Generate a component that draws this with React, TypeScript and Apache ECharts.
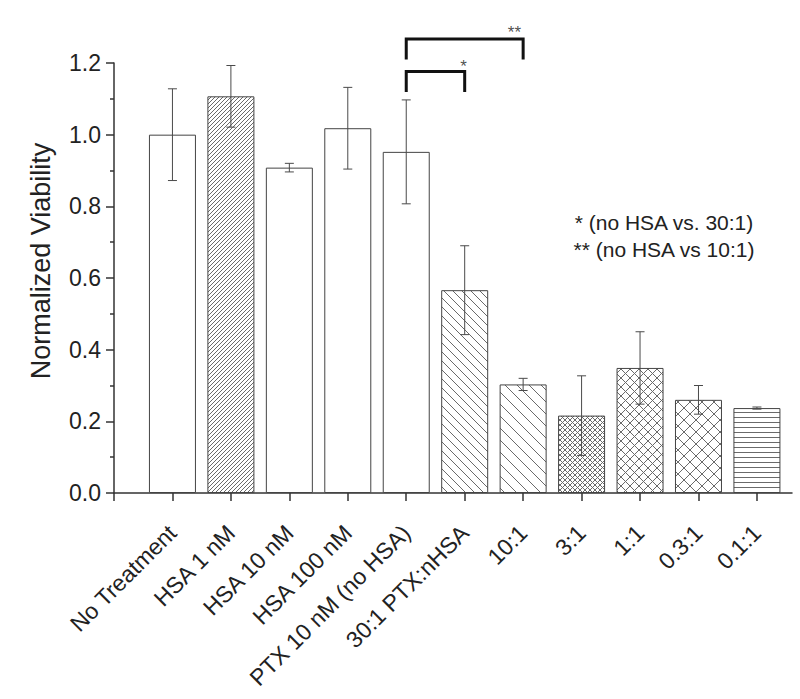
import React, { useEffect, useRef } from 'react';
import * as echarts from 'echarts';

// ---- data ----
const categories = [
  'No Treatment',
  'HSA 1 nM',
  'HSA 10 nM',
  'HSA 100 nM',
  'PTX 10 nM (no HSA)',
  '30:1 PTX:nHSA',
  '10:1',
  '3:1',
  '1:1',
  '0.3:1',
  '0.1:1',
];
const viability = [1.0, 1.107, 0.908, 1.018, 0.952, 0.566, 0.303, 0.216, 0.349, 0.26, 0.237];
const errors = [0.128, 0.086, 0.012, 0.114, 0.145, 0.124, 0.017, 0.111, 0.101, 0.04, 0.003];
const hatchKinds = ['none', 'fwd', 'none', 'none', 'none', 'back', 'back', 'cross', 'cross', 'cross', 'horiz'];
const hatchSizes = [0, 4, 0, 0, 0, 9, 12, 5, 9, 12, 5];
const yTickValues = [0, 0.2, 0.4, 0.6, 0.8, 1.0, 1.2];
// significance brackets: [x, y] in data space
const bracketOuter = [[5, 1.214], [5, 1.267], [7, 1.267], [7, 1.214]];
const bracketInner = [[5, 1.123], [5, 1.176], [6, 1.176], [6, 1.123]];
const starPositions = [[5.98, 1.19], [6.85, 1.285]];
const starTexts = ['*', '**'];
const noteLines = ['* (no HSA vs. 30:1)', '** (no HSA vs 10:1)'];

const FONT = '"Liberation Sans", Arial, Helvetica, sans-serif';

function hatchFill(kind: string, s: number, color: string): any {
  if (kind === 'none') return '#ffffff';
  const fwd = `M0 ${s} L${s} 0 M-1 1 L1 -1 M${s - 1} ${s + 1} L${s + 1} ${s - 1}`;
  const back = `M0 0 L${s} ${s} M-1 ${s - 1} L1 ${s + 1} M${s - 1} -1 L${s + 1} 1`;
  const horiz = `M0 ${s / 2} L${s} ${s / 2}`;
  let d = '';
  if (kind === 'fwd') d = fwd;
  else if (kind === 'back') d = back;
  else if (kind === 'cross') d = fwd + ' ' + back;
  else if (kind === 'horiz') d = horiz;
  const svg = `<svg xmlns="http://www.w3.org/2000/svg" width="${s}" height="${s}"><rect width="${s}" height="${s}" fill="#ffffff"/><path d="${d}" stroke="${color}" stroke-width="1" fill="none"/></svg>`;
  return {
    image: 'data:image/svg+xml;charset=utf-8,' + encodeURIComponent(svg),
    repeat: 'repeat',
    imageWidth: s,
    imageHeight: s,
  };
}

export default function App() {
  const ref = useRef<HTMLDivElement>(null);
  useEffect(() => {
    document.body.style.margin = '0';
    if (!ref.current) return;
    const chart = echarts.init(ref.current, null, { renderer: 'svg' });
    const xTicks = categories.map((_, i) => i).concat([categories.length]);
    const option: any = {
      animation: false,
      backgroundColor: '#ffffff',
      grid: { left: 114, right: 8, top: 63, bottom: 206 },
      xAxis: {
        type: 'value',
        min: 0,
        max: 11.6,
        interval: 1,
        splitLine: { show: false },
        axisLine: { show: true, onZero: false, lineStyle: { color: '#333', width: 1.5 } },
        axisTick: { show: true, inside: false, length: 8, customValues: xTicks, lineStyle: { color: '#333', width: 1.5 } },
        axisLabel: {
          customValues: categories.map((_, i) => i + 1),
          formatter: (v: number) => categories[Math.round(v) - 1] ?? '',
          rotate: 45,
          margin: 36,
          fontSize: 23,
          fontFamily: FONT,
          color: '#222',
        },
      },
      yAxis: {
        type: 'value',
        min: 0,
        max: 1.2,
        interval: 0.2,
        name: 'Normalized Viability',
        nameLocation: 'middle',
        nameGap: 60,
        nameTextStyle: { fontSize: 27, fontFamily: FONT, color: '#222', padding: [0, 0, 0, 34] },
        splitLine: { show: false },
        axisLine: { show: true, lineStyle: { color: '#333', width: 1.5 } },
        axisTick: { show: true, inside: false, length: 8, customValues: yTickValues, lineStyle: { color: '#333', width: 1.5 } },
        minorTick: { show: true, splitNumber: 2, length: 4, lineStyle: { color: '#333', width: 1.5 } },
        axisLabel: {
          customValues: yTickValues,
          formatter: (v: number) => v.toFixed(1),
          margin: 13,
          fontSize: 23,
          fontFamily: FONT,
          color: '#222',
        },
      },
      series: [
        {
          type: 'bar',
          barWidth: 47,
          z: 2,
          itemStyle: { borderColor: '#444', borderWidth: 1 },
          data: viability.map((v, i) => ({
            value: [i + 1, v],
            itemStyle: { color: hatchFill(hatchKinds[i], hatchSizes[i], '#6a6a6a') },
          })),
        },
        {
          type: 'custom',
          z: 5,
          clip: false,
          encode: { x: 0, y: [1, 2] },
          data: viability.map((v, i) => [i + 1, v - errors[i], v + errors[i]]),
          renderItem: (_params: any, api: any) => {
            const x = api.value(0);
            const lo = api.coord([x, api.value(1)]);
            const hi = api.coord([x, api.value(2)]);
            const hw = 4.5;
            const st = { stroke: '#4a4a4a', lineWidth: 1 };
            return {
              type: 'group',
              children: [
                { type: 'line', shape: { x1: hi[0], y1: hi[1], x2: lo[0], y2: lo[1] }, style: st },
                { type: 'line', shape: { x1: hi[0] - hw, y1: hi[1], x2: hi[0] + hw, y2: hi[1] }, style: st },
                { type: 'line', shape: { x1: lo[0] - hw, y1: lo[1], x2: lo[0] + hw, y2: lo[1] }, style: st },
              ],
            };
          },
        },
        {
          type: 'line',
          data: bracketOuter,
          clip: false,
          symbol: 'none',
          z: 6,
          lineStyle: { color: '#111', width: 3, cap: 'square', join: 'miter' },
        },
        {
          type: 'line',
          data: bracketInner,
          clip: false,
          symbol: 'none',
          z: 6,
          lineStyle: { color: '#111', width: 3, cap: 'square', join: 'miter' },
        },
        {
          type: 'scatter',
          data: starPositions,
          symbolSize: 0,
          clip: false,
          z: 7,
          label: {
            show: true,
            position: 'inside',
            formatter: (p: any) => starTexts[p.dataIndex],
            fontSize: 17,
            fontFamily: FONT,
            color: '#222',
          },
        },
      ],
      graphic: noteLines.map((t, i) => ({
        type: 'text',
        x: 664,
        y: 222 + i * 27,
        style: {
          text: t,
          fill: '#222',
          font: `21px ${FONT}`,
          textAlign: 'center',
          textVerticalAlign: 'middle',
        },
      })),
    };
    chart.setOption(option);
    return () => chart.dispose();
  }, []);
  return (
    <div
      ref={ref}
      style={{ position: 'fixed', left: 0, top: 0, width: 800, height: 699, background: '#fff' }}
    />
  );
}
